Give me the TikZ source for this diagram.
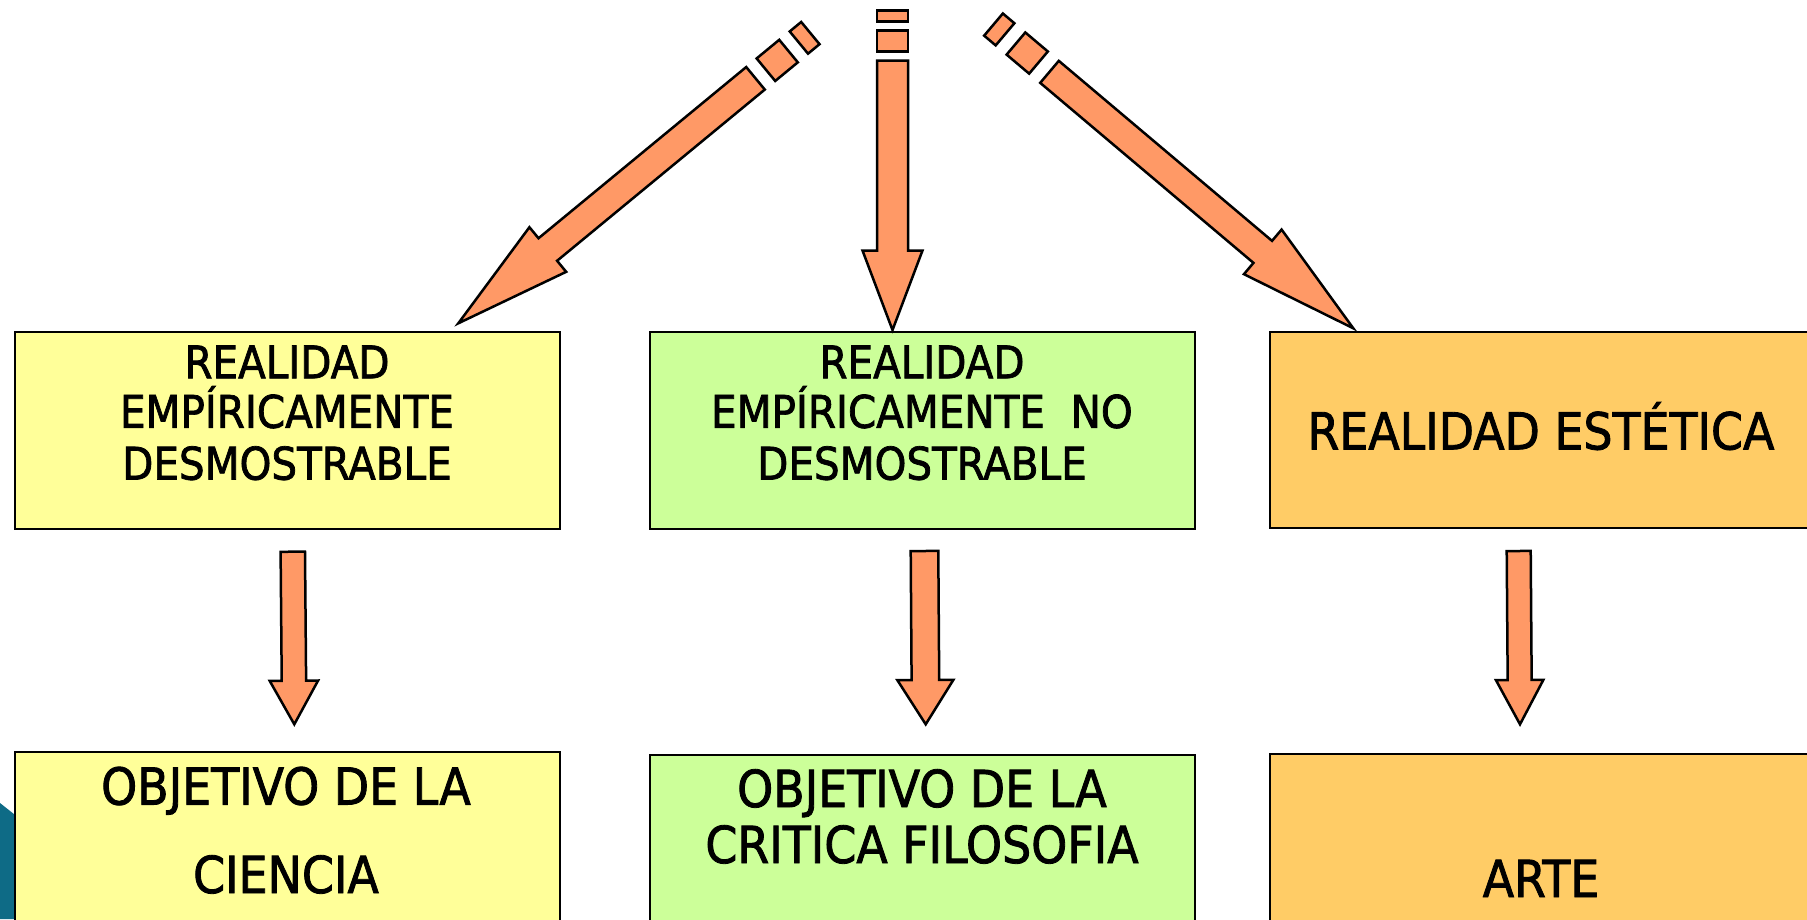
\documentclass[tikz,border=0pt]{standalone}
\usepackage{fontspec}
\setmainfont{DejaVu Sans Condensed}[FakeBold=1.6]
\usetikzlibrary{calc}
\definecolor{arrowfill}{HTML}{FF9966}
\definecolor{yel}{HTML}{FFFF99}
\definecolor{grn}{HTML}{CCFF99}
\definecolor{org}{HTML}{FFCC66}
\definecolor{tealbg}{HTML}{0E6B86}
% block arrow: #1 shaft start, #2 tip, #3 head length, #4 shaft half width, #5 head half width
\newcommand\blockarrow[5]{%
  \coordinate (ba-b) at ($(#2)!#3!(#1)$);
  \filldraw[arrowstyle]
    ($(#1)!#4!90:(#2)$) -- ($(ba-b)!#4!90:(#2)$) -- ($(ba-b)!#5!90:(#2)$) -- (#2)
    -- ($(ba-b)!#5!-90:(#2)$) -- ($(ba-b)!#4!-90:(#2)$) -- ($(#1)!#4!-90:(#2)$) -- cycle;}
% dash piece behind shaft start #1 (axis towards #2), from distance #3 to #4, half width #5
\newcommand\dashpiece[5]{%
  \coordinate (dp-p) at ($(#1)!#3!180:(#2)$);
  \coordinate (dp-q) at ($(#1)!#4!180:(#2)$);
  \filldraw[arrowstyle]
    ($(dp-p)!#5!90:(#2)$) -- ($(dp-q)!#5!90:(#2)$) -- ($(dp-q)!#5!-90:(#2)$) -- ($(dp-p)!#5!-90:(#2)$) -- cycle;}
\begin{document}
\begin{tikzpicture}[x=1pt,y=-1pt,
  arrowstyle/.style={fill=arrowfill,draw=black,line width=2.5pt,line join=miter},
  box/.style={draw=black,line width=2pt,anchor=north west,inner sep=0pt,minimum width=545pt},
  smalltxt/.style={font=\fontsize{45}{51}\selectfont,anchor=base,inner sep=0pt},
  bigtxt/.style={font=\fontsize{51}{57}\selectfont,anchor=base,inner sep=0pt}]
\useasboundingbox (0,0) rectangle (1807,919);
\clip (0,0) rectangle (1807,919);
\fill[white] (0,0) rectangle (1807,919);
% teal background fragment
\fill[tealbg] (0,803) -- (24,822) -- (24,919) -- (0,919) -- cycle;
% boxes
\node[box,fill=yel,minimum height=197pt] (b1) at (14,331) {};
\node[box,fill=grn,minimum height=197pt] (b2) at (649,331) {};
\node[box,fill=org,minimum height=196pt] (b3) at (1269,331) {};
\node[box,fill=yel,minimum height=200pt] (b4) at (14,751) {};
\node[box,fill=grn,minimum height=200pt] (b5) at (649,754) {};
\node[box,fill=org,minimum height=200pt] (b6) at (1269,753) {};
% texts
\node[smalltxt] (t1a) at (287,378.3) {REALIDAD};
\node[smalltxt] (t1b) at (287,427.8) {EMPÍRICAMENTE};
\node[smalltxt] (t1c) at (287,479.6) {DESMOSTRABLE};
\node[smalltxt] (t2a) at (922,378.3) {REALIDAD};
\node[smalltxt] (t2b) at (922,427.8) {EMPÍRICAMENTE~~NO};
\node[smalltxt] (t2c) at (922,479.6) {DESMOSTRABLE};
\node[bigtxt] (t3) at (1541,449.4) {REALIDAD ESTÉTICA};
\node[bigtxt] (t4a) at (286,804.6) {OBJETIVO DE LA};
\node[bigtxt] (t4b) at (286,893) {CIENCIA};
\node[bigtxt] (t5a) at (922,807) {OBJETIVO DE LA};
\node[bigtxt] (t5b) at (922,863) {CRITICA FILOSOFIA};
\node[bigtxt] (t6) at (1541,897) {ARTE};
% top arrows
\coordinate (ls) at (755.5,78.3);  \coordinate (lt) at (458.3,323.3);
\coordinate (ms) at (892.5,60.7);  \coordinate (mt) at (892.5,330);
\coordinate (rs) at (1049.5,71.85); \coordinate (rt) at (1353.3,328.3);
\blockarrow{ls}{lt}{116pt}{14.6pt}{28.9pt}
\dashpiece{ls}{lt}{13.5pt}{42.8pt}{14.6pt}
\dashpiece{ls}{lt}{56.2pt}{71.1pt}{14.4pt}
\blockarrow{ms}{mt}{79.5pt}{15.5pt}{30pt}
\dashpiece{ms}{mt}{9pt}{30pt}{15.5pt}
\dashpiece{ms}{mt}{39pt}{50pt}{15.5pt}
\blockarrow{rs}{rt}{118.5pt}{14.4pt}{29.2pt}
\dashpiece{rs}{rt}{14.4pt}{43.9pt}{14.5pt}
\dashpiece{rs}{rt}{58.2pt}{73.3pt}{14.5pt}
% lower arrows
\coordinate (d1s) at (292.8,551.7); \coordinate (d1t) at (294.3,724.3);
\coordinate (d2s) at (924.5,551);   \coordinate (d2t) at (925.7,724.3);
\coordinate (d3s) at (1518.7,551);  \coordinate (d3t) at (1520,724.3);
\blockarrow{d1s}{d1t}{43.6pt}{12.2pt}{24.2pt}
\blockarrow{d2s}{d2t}{44.3pt}{13.8pt}{28pt}
\blockarrow{d3s}{d3t}{44.3pt}{12pt}{23.7pt}
\end{tikzpicture}
\end{document}
